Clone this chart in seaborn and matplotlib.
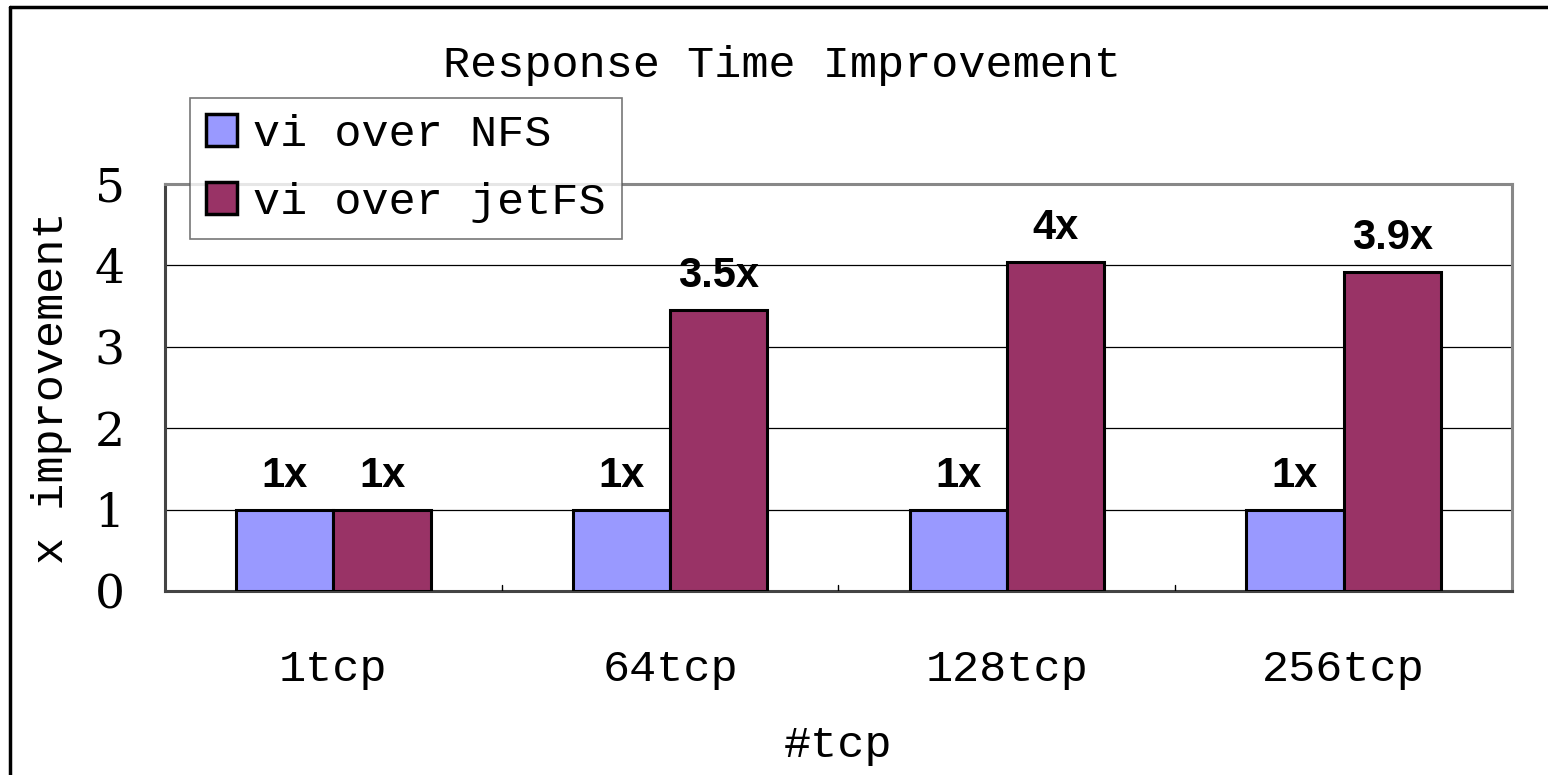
import matplotlib.pyplot as plt
import seaborn as sns
import pandas as pd
from matplotlib.lines import Line2D

# data
categories = ['1tcp', '64tcp', '128tcp', '256tcp']
series = ['vi over NFS', 'vi over jetFS']
nfs_values = [1.0, 1.0, 1.0, 1.0]
jetfs_values = [1.0, 3.45, 4.04, 3.92]
nfs_labels = ['1x', '1x', '1x', '1x']
jetfs_labels = ['1x', '3.5x', '4x', '3.9x']

colors = ['#9999FF', '#993366']
mono = 'Liberation Mono'

df = pd.DataFrame({
    'tcp': categories * 2,
    'series': [series[0]] * 4 + [series[1]] * 4,
    'value': nfs_values + jetfs_values,
})

sns.set_style('white')
plt.rcParams['font.family'] = [mono, 'DejaVu Sans']
plt.rcParams['text.color'] = 'black'
plt.rcParams['axes.labelcolor'] = 'black'
plt.rcParams['xtick.color'] = 'black'
plt.rcParams['ytick.color'] = 'black'

fig = plt.figure(figsize=(15.48, 7.75), dpi=100)
ax = fig.add_axes([0.1066, 0.2374, 0.8701, 0.5252])

sns.barplot(data=df, x='tcp', y='value', hue='series', order=categories,
            hue_order=series, palette=colors, width=0.578, saturation=1,
            edgecolor='black', linewidth=2.2, ax=ax, zorder=3)

# value labels above the bars
for container, labels in zip(ax.containers, [nfs_labels, jetfs_labels]):
    ax.bar_label(container, labels=labels, padding=10, fontsize=30,
                 fontweight='bold', family='Liberation Sans', color='black')

ax.set_ylim(0, 5)
ax.set_xlim(-0.5, 3.5)
ax.set_yticks(range(6))
ax.yaxis.grid(True, color='black', linewidth=0.9, zorder=0)
ax.set_axisbelow(True)
ax.tick_params(axis='y', labelsize=34, length=0, pad=29)
ax.tick_params(axis='x', labelsize=32.5, length=0, pad=42)
ax.set_yticklabels([str(i) for i in range(6)], family='DejaVu Serif')

ax.set_xlabel('#tcp', fontsize=32.5, labelpad=25)
ax.set_ylabel('x improvement', fontsize=32.5)
ax.yaxis.set_label_coords(-0.069, 0.5)

for s in ['top', 'right']:
    ax.spines[s].set_color('#888888')
    ax.spines[s].set_linewidth(2.2)
for s in ['left', 'bottom']:
    ax.spines[s].set_color('#444444')
    ax.spines[s].set_linewidth(2.2)

# small category separators on the bottom axis
for xb in [0.5, 1.5, 2.5]:
    ax.plot([xb, xb], [0, 0.08], color='black', linewidth=1, zorder=4)

fig.text(0.505, 0.916, 'Response Time Improvement', ha='center', va='center',
         fontsize=32.5)

handles = [plt.Rectangle((0, 0), 1, 1, facecolor=c, edgecolor='black',
                         linewidth=2.5) for c in colors]
leg = fig.legend(handles, series, loc='upper left',
                 bbox_to_anchor=(0.1227, 0.8735), fontsize=32.5, frameon=True,
                 fancybox=False, handlelength=0.7, handleheight=0.7,
                 handletextpad=0.35, borderpad=0.35, labelspacing=0.6,
                 borderaxespad=0)
leg.get_frame().set_edgecolor('#555555')
leg.get_frame().set_linewidth(1.2)
leg.set_zorder(10)
if ax.get_legend() is not None:
    ax.get_legend().remove()

# outer chart border
fig.add_artist(Line2D([10 / 1548, 1], [1 - 7 / 775, 1 - 7 / 775],
                      color='black', linewidth=2.5))
fig.add_artist(Line2D([10 / 1548, 10 / 1548], [0, 1 - 7 / 775],
                      color='black', linewidth=2.5))

fig.savefig('out.png', dpi=100)
